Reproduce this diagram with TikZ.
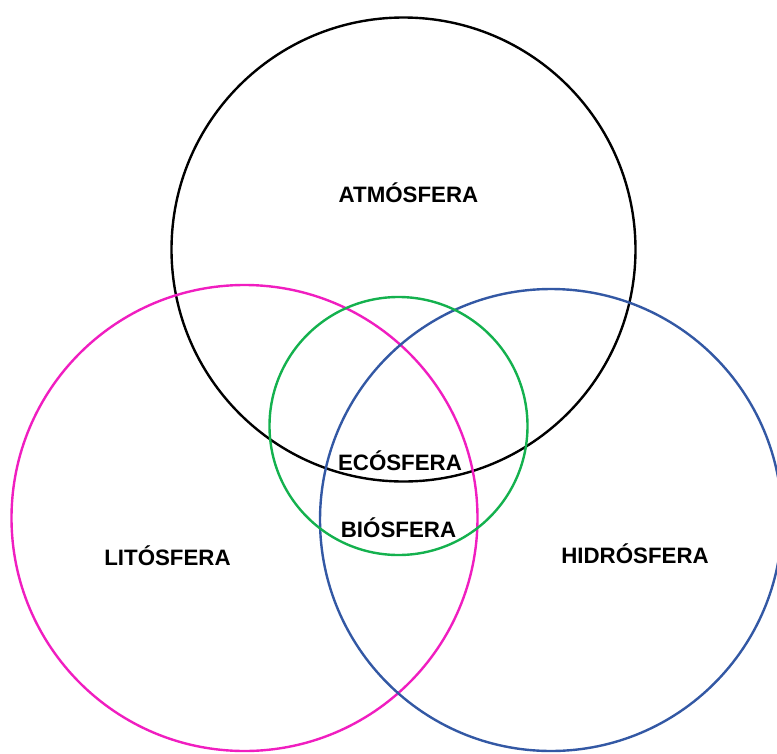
\documentclass[tikz,border=0pt]{standalone}
\usepackage{fontspec}
\setmainfont{Liberation Sans}
\definecolor{litopink}{HTML}{F01EC0}
\definecolor{hidroblue}{HTML}{3358A4}
\definecolor{biogreen}{HTML}{14B14E}
\begin{document}
\begin{tikzpicture}[x=1pt,y=-1pt,
  sphere/.style={circle,draw,line width=2.4pt,inner sep=0pt,outer sep=0pt},
  label/.style={font=\fontsize{22.3}{25}\selectfont\bfseries,anchor=base,inner sep=0pt}]
  \useasboundingbox (0,0) rectangle (777,753);
  % the four spheres
  \node[sphere,draw=black,minimum size=464pt] (atm) at (403.5,249.5) {};
  \node[sphere,draw=litopink,minimum size=466pt] (lito) at (244.5,518) {};
  \node[sphere,draw=hidroblue,minimum size=462pt] (hidro) at (551,520) {};
  \node[sphere,draw=biogreen,minimum size=258pt] (bio) at (398.5,426) {};
  % names
  \node[label] (tatm) at (408.5,202) {ATMÓSFERA};
  \node[label] (tlito) at (167.5,565) {LITÓSFERA};
  \node[label] (thidro) at (635,563) {HIDRÓSFERA};
  \node[label] (teco) at (400,470) {ECÓSFERA};
  \node[label] (tbio) at (398.5,537) {BIÓSFERA};
\end{tikzpicture}
\end{document}
